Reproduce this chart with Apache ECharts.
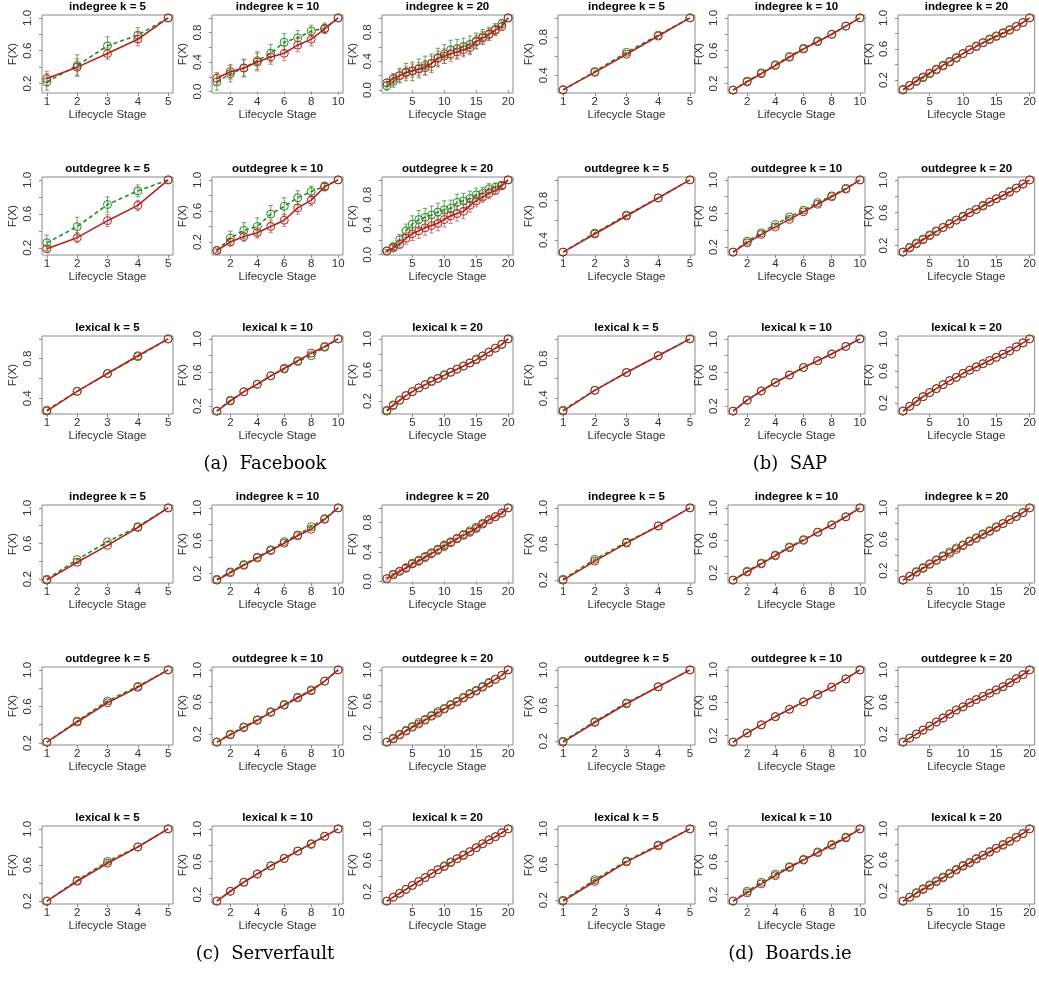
<!DOCTYPE html>
<html>
<head>
<meta charset="utf-8">
<script src="https://cdn.jsdelivr.net/npm/echarts@6/dist/echarts.min.js"></script>
<style>html,body{margin:0;padding:0;background:#fff}#c{width:1039px;height:987px}</style>
</head>
<body>
<div id="c"></div>
<script>
// ---------------- DATA ----------------
const STAGES_5 = [1,2,3,4,5];
const STAGES_10 = [1,2,3,4,5,6,7,8,9,10];
const STAGES_20 = [1,2,3,4,5,6,7,8,9,10,11,12,13,14,15,16,17,18,19,20];
const X_TICKS_5 = [1,2,3,4,5];
const X_TICKS_10 = [2,4,6,8,10];
const X_TICKS_20 = [5,10,15,20];
const Y_TICKS_0 = [0.0,0.2,0.4,0.6,0.8,1.0];

const CAPTIONS = ['(a)  Facebook','(b)  SAP','(c)  Serverfault','(d)  Boards.ie'];
const MEASURES = ['indegree','outdegree','lexical'];
const KS = [5,10,20];

// (a) Facebook
const fb_in5_red = [0.26,0.40,0.565,0.74,1.0];
const fb_in5_green = [0.22,0.42,0.66,0.79,1.0];
const fb_in5_red_err = [0.09,0.10,0.07,0.08,0];
const fb_in5_green_err = [0.10,0.13,0.11,0.09,0];
const fb_in10_red = [0.18,0.27,0.32,0.40,0.47,0.52,0.63,0.71,0.85,1.0];
const fb_in10_green = [0.13,0.24,0.32,0.42,0.52,0.67,0.73,0.82,0.86,1.0];
const fb_in10_red_err = [0.08,0.10,0.11,0.12,0.10,0.10,0.09,0.09,0.06,0];
const fb_in10_green_err = [0.11,0.11,0.12,0.12,0.12,0.12,0.10,0.08,0.07,0];
const fb_in20_red = [0.10,0.16,0.20,0.24,0.27,0.29,0.31,0.37,0.44,0.47,0.50,0.53,0.56,0.59,0.67,0.72,0.77,0.83,0.88,1.0];
const fb_in20_green = [0.06,0.12,0.20,0.25,0.26,0.30,0.34,0.37,0.45,0.50,0.56,0.57,0.60,0.63,0.68,0.74,0.78,0.84,0.92,1.0];
const fb_in20_red_err = [0.05,0.07,0.08,0.08,0.09,0.09,0.10,0.10,0.10,0.10,0.10,0.10,0.10,0.10,0.09,0.09,0.08,0.07,0.05,0];
const fb_in20_green_err = [0.06,0.08,0.10,0.12,0.13,0.13,0.13,0.13,0.13,0.13,0.13,0.13,0.12,0.12,0.11,0.10,0.09,0.08,0.06,0];
const fb_out5_red = [0.19,0.32,0.52,0.70,1.0];
const fb_out5_green = [0.26,0.45,0.71,0.87,1.0];
const fb_out5_red_err = [0.04,0.06,0.07,0.06,0];
const fb_out5_green_err = [0.09,0.11,0.09,0.07,0];
const fb_out10_red = [0.09,0.20,0.27,0.32,0.40,0.48,0.64,0.74,0.91,1.0];
const fb_out10_green = [0.09,0.25,0.35,0.40,0.56,0.66,0.77,0.85,0.92,1.0];
const fb_out10_red_err = [0.02,0.05,0.06,0.07,0.08,0.08,0.08,0.07,0.05,0];
const fb_out10_green_err = [0.02,0.09,0.10,0.11,0.11,0.11,0.09,0.07,0.05,0];
const fb_out20_red = [0.05,0.09,0.14,0.22,0.28,0.32,0.36,0.39,0.42,0.47,0.52,0.55,0.58,0.66,0.72,0.77,0.82,0.86,0.92,1.0];
const fb_out20_green = [0.05,0.11,0.20,0.32,0.41,0.47,0.50,0.53,0.57,0.60,0.62,0.70,0.72,0.75,0.80,0.82,0.88,0.90,0.93,1.0];
const fb_out20_red_err = [0.015,0.03,0.06,0.08,0.09,0.10,0.10,0.10,0.10,0.10,0.10,0.10,0.10,0.09,0.08,0.07,0.07,0.05,0.04,0];
const fb_out20_green_err = [0.015,0.04,0.07,0.09,0.11,0.12,0.12,0.12,0.12,0.12,0.11,0.11,0.10,0.10,0.09,0.08,0.07,0.06,0.04,0];
const fb_lex5_red = [0.27,0.47,0.65,0.83,1.0];
const fb_lex5_green = [0.28,0.47,0.65,0.82,1.0];
const fb_lex10_red = [0.14,0.26,0.37,0.46,0.56,0.65,0.74,0.83,0.91,1.0];
const fb_lex10_green = [0.14,0.27,0.37,0.46,0.56,0.64,0.73,0.80,0.90,1.0];
const fb_lex20_red = [0.08,0.15,0.21,0.27,0.32,0.37,0.41,0.45,0.49,0.53,0.57,0.61,0.65,0.69,0.73,0.78,0.83,0.88,0.93,1.0];
const fb_lex20_green = [0.07,0.14,0.21,0.27,0.32,0.37,0.41,0.46,0.49,0.54,0.57,0.61,0.65,0.69,0.74,0.78,0.83,0.88,0.93,1.0];

// (b) SAP
const sap_in5_red = [0.25,0.43,0.62,0.81,1.0];
const sap_in5_green = [0.245,0.44,0.64,0.82,1.0];
const sap_in10_red = [0.12,0.22,0.32,0.42,0.52,0.62,0.71,0.80,0.90,1.0];
const sap_in10_green = [0.12,0.23,0.33,0.43,0.53,0.63,0.72,0.80,0.90,1.0];
const sap_in20_red = [0.08,0.13,0.19,0.24,0.29,0.34,0.39,0.44,0.49,0.54,0.59,0.63,0.68,0.72,0.76,0.80,0.84,0.89,0.94,1.0];
const sap_in20_green = [0.07,0.13,0.18,0.23,0.28,0.33,0.38,0.43,0.48,0.54,0.59,0.64,0.68,0.73,0.77,0.81,0.85,0.89,0.94,1.0];
const sap_out5_red = [0.28,0.46,0.64,0.82,1.0];
const sap_out5_green = [0.28,0.47,0.65,0.82,1.0];
const sap_out10_red = [0.14,0.25,0.35,0.44,0.53,0.62,0.71,0.80,0.89,1.0];
const sap_out10_green = [0.14,0.27,0.37,0.47,0.56,0.64,0.73,0.81,0.90,1.0];
const sap_out20_red = [0.12,0.17,0.22,0.27,0.32,0.37,0.42,0.46,0.51,0.55,0.60,0.64,0.68,0.73,0.77,0.81,0.85,0.90,0.95,1.0];
const sap_out20_green = [0.12,0.18,0.23,0.28,0.33,0.38,0.42,0.47,0.51,0.56,0.60,0.64,0.69,0.73,0.77,0.81,0.86,0.90,0.95,1.0];
const sap_lex5_red = [0.27,0.48,0.66,0.83,1.0];
const sap_lex5_green = [0.28,0.48,0.66,0.83,1.0];
const sap_lex10_red = [0.14,0.27,0.38,0.48,0.57,0.66,0.74,0.82,0.91,1.0];
const sap_lex10_green = [0.14,0.27,0.38,0.48,0.57,0.66,0.74,0.82,0.91,1.0];
const sap_lex20_red = [0.10,0.16,0.22,0.28,0.33,0.38,0.43,0.48,0.52,0.57,0.61,0.65,0.69,0.73,0.77,0.81,0.85,0.90,0.95,1.0];
const sap_lex20_green = [0.10,0.16,0.22,0.28,0.33,0.38,0.43,0.48,0.52,0.57,0.61,0.65,0.69,0.73,0.77,0.81,0.85,0.90,0.95,1.0];

// (c) Serverfault
const sf_in5_red = [0.19,0.39,0.58,0.78,1.0];
const sf_in5_green = [0.20,0.42,0.62,0.79,1.0];
const sf_in10_red = [0.12,0.21,0.30,0.39,0.48,0.57,0.66,0.74,0.86,1.0];
const sf_in10_green = [0.13,0.22,0.31,0.40,0.49,0.59,0.67,0.77,0.87,1.0];
const sf_in20_red = [0.04,0.09,0.14,0.18,0.24,0.28,0.33,0.38,0.43,0.48,0.53,0.58,0.63,0.67,0.72,0.78,0.84,0.88,0.93,1.0];
const sf_in20_green = [0.04,0.10,0.14,0.19,0.25,0.29,0.34,0.39,0.44,0.50,0.54,0.59,0.64,0.69,0.74,0.79,0.84,0.88,0.93,1.0];
const sf_in20_red_err = [0.02,0.02,0.03,0.04,0.05,0.06,0.06,0.06,0.06,0.06,0.05,0.05,0.05,0.05,0.04,0.03,0.03,0.02,0.02,0];
const sf_out5_red = [0.21,0.43,0.64,0.81,1.0];
const sf_out5_green = [0.21,0.44,0.66,0.82,1.0];
const sf_out10_red = [0.10,0.19,0.28,0.37,0.47,0.56,0.65,0.74,0.86,1.0];
const sf_out10_green = [0.10,0.20,0.29,0.38,0.48,0.57,0.66,0.75,0.86,1.0];
const sf_out20_red = [0.08,0.12,0.17,0.22,0.27,0.31,0.36,0.41,0.45,0.50,0.55,0.59,0.64,0.69,0.73,0.78,0.83,0.88,0.93,1.0];
const sf_out20_green = [0.08,0.13,0.18,0.23,0.28,0.33,0.37,0.42,0.47,0.51,0.56,0.60,0.65,0.70,0.74,0.79,0.84,0.88,0.93,1.0];
const sf_lex5_red = [0.20,0.42,0.62,0.80,1.0];
const sf_lex5_green = [0.20,0.43,0.64,0.80,1.0];
const sf_lex10_red = [0.12,0.24,0.35,0.45,0.55,0.64,0.73,0.82,0.91,1.0];
const sf_lex10_green = [0.12,0.24,0.35,0.45,0.55,0.64,0.73,0.81,0.91,1.0];
const sf_lex20_red = [0.08,0.13,0.18,0.23,0.28,0.33,0.38,0.43,0.48,0.52,0.57,0.62,0.66,0.71,0.76,0.81,0.86,0.90,0.95,1.0];
const sf_lex20_green = [0.08,0.13,0.18,0.23,0.28,0.33,0.38,0.43,0.48,0.53,0.58,0.62,0.67,0.71,0.76,0.81,0.86,0.90,0.95,1.0];

// (d) Boards.ie
const bd_in5_red = [0.20,0.41,0.61,0.80,1.0];
const bd_in5_green = [0.21,0.43,0.62,0.80,1.0];
const bd_in10_red = [0.11,0.21,0.31,0.41,0.51,0.60,0.70,0.79,0.89,1.0];
const bd_in10_green = [0.11,0.22,0.32,0.42,0.52,0.61,0.70,0.79,0.89,1.0];
const bd_in20_red = [0.08,0.13,0.18,0.23,0.28,0.33,0.38,0.42,0.47,0.52,0.57,0.61,0.66,0.70,0.75,0.80,0.85,0.89,0.94,1.0];
const bd_in20_green = [0.08,0.13,0.19,0.24,0.29,0.34,0.39,0.44,0.49,0.53,0.58,0.62,0.67,0.71,0.76,0.80,0.85,0.89,0.94,1.0];
const bd_out5_red = [0.19,0.41,0.62,0.81,1.0];
const bd_out5_green = [0.20,0.42,0.63,0.81,1.0];
const bd_out10_red = [0.12,0.23,0.33,0.43,0.52,0.61,0.70,0.79,0.89,1.0];
const bd_out10_green = [0.12,0.23,0.33,0.43,0.52,0.61,0.70,0.79,0.89,1.0];
const bd_out20_red = [0.10,0.15,0.20,0.25,0.30,0.35,0.40,0.45,0.50,0.54,0.59,0.63,0.67,0.71,0.75,0.79,0.84,0.89,0.94,1.0];
const bd_out20_green = [0.10,0.15,0.20,0.25,0.30,0.35,0.40,0.45,0.50,0.54,0.59,0.63,0.67,0.71,0.75,0.79,0.84,0.89,0.94,1.0];
const bd_lex5_red = [0.19,0.41,0.63,0.81,1.0];
const bd_lex5_green = [0.20,0.43,0.64,0.82,1.0];
const bd_lex10_red = [0.12,0.22,0.33,0.43,0.53,0.62,0.71,0.80,0.89,1.0];
const bd_lex10_green = [0.12,0.24,0.35,0.45,0.54,0.63,0.72,0.81,0.90,1.0];
const bd_lex20_red = [0.07,0.12,0.17,0.22,0.27,0.32,0.37,0.42,0.47,0.52,0.56,0.61,0.66,0.70,0.75,0.79,0.84,0.89,0.94,1.0];
const bd_lex20_green = [0.07,0.12,0.18,0.23,0.28,0.33,0.38,0.43,0.48,0.53,0.57,0.62,0.66,0.71,0.75,0.80,0.84,0.89,0.94,1.0];

const SERIES_TABLE = [
  [[fb_in5_red,fb_in5_green,fb_in5_red_err,fb_in5_green_err],[fb_in10_red,fb_in10_green,fb_in10_red_err,fb_in10_green_err],[fb_in20_red,fb_in20_green,fb_in20_red_err,fb_in20_green_err],
   [fb_out5_red,fb_out5_green,fb_out5_red_err,fb_out5_green_err],[fb_out10_red,fb_out10_green,fb_out10_red_err,fb_out10_green_err],[fb_out20_red,fb_out20_green,fb_out20_red_err,fb_out20_green_err],
   [fb_lex5_red,fb_lex5_green],[fb_lex10_red,fb_lex10_green],[fb_lex20_red,fb_lex20_green]],
  [[sap_in5_red,sap_in5_green],[sap_in10_red,sap_in10_green],[sap_in20_red,sap_in20_green],
   [sap_out5_red,sap_out5_green],[sap_out10_red,sap_out10_green],[sap_out20_red,sap_out20_green],
   [sap_lex5_red,sap_lex5_green],[sap_lex10_red,sap_lex10_green],[sap_lex20_red,sap_lex20_green]],
  [[sf_in5_red,sf_in5_green],[sf_in10_red,sf_in10_green],[sf_in20_red,sf_in20_green,sf_in20_red_err],
   [sf_out5_red,sf_out5_green],[sf_out10_red,sf_out10_green],[sf_out20_red,sf_out20_green],
   [sf_lex5_red,sf_lex5_green],[sf_lex10_red,sf_lex10_green],[sf_lex20_red,sf_lex20_green]],
  [[bd_in5_red,bd_in5_green],[bd_in10_red,bd_in10_green],[bd_in20_red,bd_in20_green],
   [bd_out5_red,bd_out5_green],[bd_out10_red,bd_out10_green],[bd_out20_red,bd_out20_green],
   [bd_lex5_red,bd_lex5_green],[bd_lex10_red,bd_lex10_green],[bd_lex20_red,bd_lex20_green]]
];

// ---------------- LAYOUT / STYLE ----------------
const GROUP_X = [42, 558];
const BOX_W = [131, 137];
const COL_STEP = 170;
const GROUP_Y = [15, 505];
const ROW_OFF = [0, 162, 321];
const BOX_H = 78;
const CAPTION_DY = 449;
const CAPTION_X = [265, 790];
const RED = '#b22222';
const GREEN = '#228b22';
const RED_ERR = 'rgba(205,80,80,0.75)';
const GREEN_ERR = 'rgba(50,140,50,0.75)';
const FONT = 'Liberation Sans, Arial, sans-serif';

const chart = echarts.init(document.getElementById('c'), null, {renderer:'canvas'});
const grids = [], xAxes = [], yAxes = [], series = [], graphics = [];

function errSeries(idx, xs, vals, errs, color) {
  const data = xs.map((x, i) => [x, vals[i] - errs[i], vals[i] + errs[i]]);
  return {
    type: 'custom', xAxisIndex: idx, yAxisIndex: idx, silent: true, z: 1,
    encode: {x: 0, y: [1, 2]},
    data: data,
    renderItem: function (params, api) {
      const x = api.value(0), lo = api.value(1), hi = api.value(2);
      if (hi - lo <= 0.0001) return null;
      const a = api.coord([x, lo]), b = api.coord([x, hi]);
      const w = 2.2;
      const st = {stroke: color, lineWidth: 1};
      return {type: 'group', children: [
        {type: 'line', shape: {x1: a[0], y1: a[1], x2: b[0], y2: b[1]}, style: st},
        {type: 'line', shape: {x1: a[0]-w, y1: a[1], x2: a[0]+w, y2: a[1]}, style: st},
        {type: 'line', shape: {x1: b[0]-w, y1: b[1], x2: b[0]+w, y2: b[1]}, style: st}
      ]};
    }
  };
}

let idx = 0;
for (let g = 0; g < 4; g++) {
  const gx = g % 2, gy = Math.floor(g / 2);
  for (let r = 0; r < 3; r++) {
    for (let c = 0; c < 3; c++) {
      const k = KS[c];
      const xs = k === 5 ? STAGES_5 : (k === 10 ? STAGES_10 : STAGES_20);
      const xt = k === 5 ? X_TICKS_5 : (k === 10 ? X_TICKS_10 : X_TICKS_20);
      const entry = SERIES_TABLE[g][r * 3 + c];
      const red = entry[0], green = entry[1];
      const redErr = entry[2] || null, greenErr = entry[3] || null;
      let lo = Infinity, hi = -Infinity;
      [[red, redErr], [green, greenErr]].forEach(([v, e]) => {
        v.forEach((y, i) => { const d = e ? e[i] : 0; lo = Math.min(lo, y - d); hi = Math.max(hi, y + d); });
      });
      const yPad = (hi - lo) * 0.04;
      const xPad = (k - 1) * 0.04;
      const ymin = lo - yPad, ymax = hi + yPad;
      const left = GROUP_X[gx] + c * COL_STEP;
      const width = BOX_W[gx];
      const top = GROUP_Y[gy] + ROW_OFF[r];
      grids.push({left: left, top: top, width: width, height: BOX_H, show: true,
        borderColor: '#8a8a8a', borderWidth: 1, backgroundColor: 'transparent', containLabel: false});
      const yTicks = Y_TICKS_0.filter(v => v >= ymin - 1e-9 && v <= ymax + 1e-9);
      // like R: overlapping labels are dropped, so every second tick is labelled
      const yLabels = yTicks.filter((v, i) => i % 2 === 0);
      xAxes.push({type: 'value', gridIndex: idx, min: 1 - xPad, max: k + xPad,
        name: 'Lifecycle Stage', nameLocation: 'middle', nameGap: 16,
        nameTextStyle: {fontFamily: FONT, fontSize: 11.5, color: '#333'},
        axisLine: {show: false}, splitLine: {show: false},
        axisTick: {show: true, length: 3, lineStyle: {color: '#8a8a8a'}, customValues: xt},
        axisLabel: {show: true, margin: 3, fontFamily: FONT, fontSize: 11.5, color: '#333', customValues: xt, formatter: v => String(v)}
      });
      yAxes.push({type: 'value', gridIndex: idx, min: ymin, max: ymax,
        name: 'F(X)', nameLocation: 'middle', nameGap: 23, nameRotate: 90,
        nameTextStyle: {fontFamily: FONT, fontSize: 11.5, color: '#333'},
        axisLine: {show: false}, splitLine: {show: false},
        axisTick: {show: true, length: 3, lineStyle: {color: '#8a8a8a'}, customValues: yTicks},
        axisLabel: {show: true, rotate: 90, margin: 8, fontFamily: FONT, fontSize: 11.5, color: '#333',
          customValues: yLabels, formatter: v => v.toFixed(1)}
      });
      if (greenErr) series.push(errSeries(idx, xs, green, greenErr, GREEN_ERR));
      if (redErr) series.push(errSeries(idx, xs, red, redErr, RED_ERR));
      series.push({type: 'line', xAxisIndex: idx, yAxisIndex: idx, z: 2,
        data: xs.map((x, i) => [x, green[i]]), symbol: 'circle', symbolSize: 8,
        itemStyle: {color: 'rgba(0,0,0,0)', borderColor: GREEN, borderWidth: 1},
        lineStyle: {color: GREEN, width: 1.6, type: [4, 3]}, animation: false, silent: true});
      series.push({type: 'line', xAxisIndex: idx, yAxisIndex: idx, z: 3,
        data: xs.map((x, i) => [x, red[i]]), symbol: 'circle', symbolSize: 8,
        itemStyle: {color: 'rgba(0,0,0,0)', borderColor: RED, borderWidth: 1},
        lineStyle: {color: RED, width: 1.6}, animation: false, silent: true});
      graphics.push({type: 'text', x: left + width / 2, y: top - 8,
        style: {text: MEASURES[r] + ' k = ' + k, font: 'bold 11.5px ' + FONT, fill: '#000',
          align: 'center', verticalAlign: 'middle'}});
      idx++;
    }
  }
  graphics.push({type: 'text', x: CAPTION_X[gx], y: GROUP_Y[gy] + CAPTION_DY,
    style: {text: CAPTIONS[g], font: '18px DejaVu Serif, serif', fill: '#000', align: 'center', verticalAlign: 'middle'}});
}

chart.setOption({
  animation: false,
  grid: grids, xAxis: xAxes, yAxis: yAxes, series: series, graphic: graphics
});
</script>
</body>
</html>
